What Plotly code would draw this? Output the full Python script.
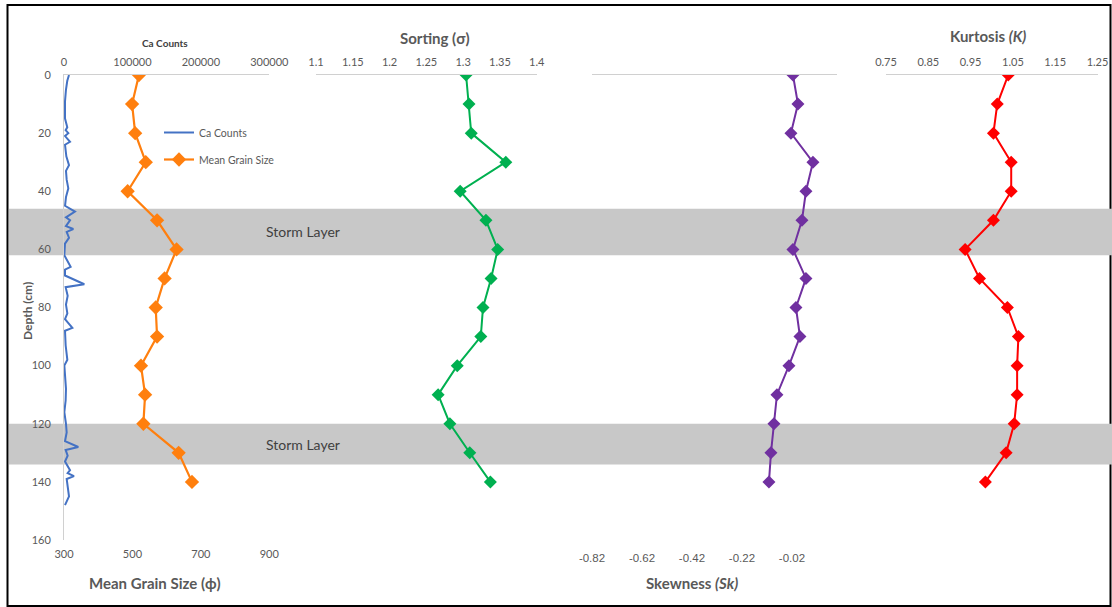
import plotly.graph_objects as go

W, H = 1112, 607


def fx(p):
    return p / W


def fy(p):
    return 1 - p / H


# Grain-size statistics, sampled every 10 cm
depth = [0, 10, 20, 30, 40, 50, 60, 70, 80, 90, 100, 110, 120, 130, 140]
mean_grain = [519, 499, 508, 539, 486, 572, 629, 594, 568, 572, 525, 537, 532, 635, 674]
sorting = [1.304, 1.308, 1.311, 1.358, 1.296, 1.331, 1.347, 1.338, 1.327, 1.324,
           1.292, 1.266, 1.282, 1.309, 1.337]
skewness = [-0.016, 0.004, -0.024, 0.064, 0.036, 0.020, -0.016, 0.036, -0.004, 0.012,
            -0.032, -0.080, -0.092, -0.104, -0.112]
kurtosis = [1.039, 1.013, 1.004, 1.046, 1.046, 1.004, 0.937, 0.971, 1.037, 1.063,
            1.060, 1.060, 1.053, 1.034, 0.985]

# XRF calcium counts down core
ca_depth = [0, 2, 5, 9, 15, 18, 19, 20, 21, 23, 24, 28, 31, 33, 36, 39, 42, 45, 47, 49,
            50, 52, 53, 54, 56, 58, 62, 66, 67, 69, 72, 73, 76, 79, 82, 84, 87, 88, 93, 98,
            100, 105, 108, 112, 116, 120, 123, 126, 128, 129, 131, 133, 136, 137, 138, 139,
            141, 144, 145, 148]
ca_counts = [7300, 4800, 2900, 1500, 1500, 4800, 2400, 6300, 1500, 8800, 1500, 3400, 7300,
             2900, 3900, 6300, 2900, 1500, 16000, 2900, 8800, 2900, 13600, 3900, 7300, 1460,
             500, 9700, 1460, 1460, 29700, 2400, 5350, 2900, 4900, 1460, 12200, 1460, 2400,
             4900, 500, 1460, 2900, 2400, 500, 2900, 3900, 1460, 20900, 2400, 5350, 1460,
             8800, 5350, 14600, 3900, 4900, 6300, 7300, 1460]

# Storm layer depth intervals (cm)
storm_layers = [(46, 62), (120, 134)]

depth_ticks = [0, 20, 40, 60, 80, 100, 120, 140, 160]
ca_ticks = [0, 100000, 200000, 300000]
grain_ticks = [300, 500, 700, 900]
sorting_ticks = [1.1, 1.15, 1.2, 1.25, 1.3, 1.35, 1.4]
skew_ticks = [-0.82, -0.62, -0.42, -0.22, -0.02]
kurt_ticks = [0.75, 0.85, 0.95, 1.05, 1.15, 1.25]

FONT = "Lato"
GREY = "#595959"
AXIS_LINE = "#d0d0d0"

fig = go.Figure()

fig.add_trace(go.Scatter(
    x=ca_counts, y=ca_depth, xaxis="x", yaxis="y", mode="lines",
    name="Ca Counts", legendgroup="ca",
    line=dict(color="#4472C4", width=2),
))
fig.add_trace(go.Scatter(
    x=mean_grain, y=depth, xaxis="x2", yaxis="y", mode="lines+markers",
    name="Mean Grain Size", legendgroup="mgs",
    line=dict(color="#FF7F0E", width=2.2),
    marker=dict(symbol="diamond", size=11, color="#FF7F0E"),
))
fig.add_trace(go.Scatter(
    x=sorting, y=depth, xaxis="x3", yaxis="y", mode="lines+markers", showlegend=False,
    line=dict(color="#00B050", width=2),
    marker=dict(symbol="diamond", size=10, color="#00B050"),
))
fig.add_trace(go.Scatter(
    x=skewness, y=depth, xaxis="x4", yaxis="y", mode="lines+markers", showlegend=False,
    line=dict(color="#7030A0", width=2),
    marker=dict(symbol="diamond", size=10, color="#7030A0"),
))
# same skewness values on the lower (labelled) skewness axis, invisible
fig.add_trace(go.Scatter(
    x=skewness, y=depth, xaxis="x5", yaxis="y", mode="markers", showlegend=False,
    marker=dict(opacity=0), hoverinfo="skip",
))
fig.add_trace(go.Scatter(
    x=kurtosis, y=depth, xaxis="x6", yaxis="y", mode="lines+markers", showlegend=False,
    line=dict(color="#FF0000", width=2),
    marker=dict(symbol="diamond", size=10, color="#FF0000"),
))

tick_font = dict(family=FONT, size=11, color=GREY)


def top_axis(dom, rng, ticks, labels=None, show_labels=True):
    return dict(
        domain=[fx(dom[0]), fx(dom[1])], range=rng, side="top", anchor="y",
        showline=True, linecolor=AXIS_LINE, linewidth=1, showgrid=False, zeroline=False,
        ticks="", tickvals=ticks, ticktext=labels, showticklabels=show_labels,
        tickfont=tick_font, ticklabelstandoff=4, automargin=False,
    )


fig.update_layout(
    width=W, height=H, template="none",
    margin=dict(l=0, r=0, t=0, b=0),
    paper_bgcolor="white", plot_bgcolor="rgba(0,0,0,0)",
    font=dict(family=FONT, color=GREY),
    xaxis=top_axis((64, 269.3), [0, 300000], ca_ticks,
                   ["0", "100000", "200000", "300000"]),
    xaxis2=dict(
        overlaying="x", side="bottom", anchor="y", range=[300, 900],
        showline=False, showgrid=False, zeroline=False, ticks="",
        tickvals=grain_ticks, tickfont=tick_font, ticklabelstandoff=6, automargin=False,
    ),
    xaxis3=top_axis((316, 536.7), [1.1, 1.4], sorting_ticks,
                    ["1.1", "1.15", "1.2", "1.25", "1.3", "1.35", "1.4"]),
    xaxis4=top_axis((592, 836.7), [-0.82, 0.159], skew_ticks, show_labels=False),
    xaxis5=dict(
        overlaying="x4", side="bottom", anchor="y", range=[-0.82, 0.159],
        showline=False, showgrid=False, zeroline=False, ticks="",
        tickvals=skew_ticks, ticktext=["-0.82", "-0.62", "-0.42", "-0.22", "-0.02"],
        tickfont=dict(family="Liberation Sans", size=11.5, color=GREY),
        ticklabelstandoff=9, automargin=False,
    ),
    xaxis6=top_axis((886, 1097.5), [0.75, 1.25], kurt_ticks,
                    ["0.75", "0.85", "0.95", "1.05", "1.15", "1.25"]),
    yaxis=dict(
        domain=[fy(540), fy(75)], range=[160, 0], anchor="x",
        showline=True, linecolor=AXIS_LINE, linewidth=1, showgrid=False, zeroline=False,
        ticks="", tickvals=depth_ticks, tickfont=tick_font, ticklabelstandoff=10,
        automargin=False,
    ),
    legend=dict(
        x=fx(159), y=fy(118), xanchor="left", yanchor="top",
        bgcolor="rgba(0,0,0,0)", font=dict(family=FONT, size=10.5, color=GREY),
        tracegroupgap=8, itemwidth=30,
    ),
)

# Storm layer bands and the outer frame
shapes = [dict(type="rect", xref="paper", yref="paper", x0=fx(7.5), x1=fx(1110.5),
               y0=fy(606), y1=fy(5), line=dict(color="black", width=2),
               fillcolor="rgba(0,0,0,0)", layer="below")]
for top, bottom in storm_layers:
    shapes.append(dict(type="rect", xref="paper", yref="y", x0=fx(9), x1=1,
                       y0=top, y1=bottom, fillcolor="#c8c8c8",
                       line=dict(width=0), layer="below"))
fig.update_layout(shapes=shapes)

annotations = []
for top, bottom in storm_layers:
    annotations.append(dict(text="Storm Layer", xref="paper", yref="y", x=fx(303),
                            y=(top + bottom) / 2, showarrow=False,
                            xanchor="center", yanchor="middle",
                            font=dict(family=FONT, size=14, color="#404040")))

title_font = dict(family=FONT, size=15, color=GREY)
annotations += [
    dict(text="<b>Ca Counts</b>", x=fx(165), y=fy(43), font=dict(family=FONT, size=10, color="#404040")),
    dict(text="<b>Sorting (σ)</b>", x=fx(435), y=fy(38), font=title_font),
    dict(text="<b>Kurtosis <i>(K)</i></b>", x=fx(988), y=fy(36), font=title_font),
    dict(text="<b>Mean Grain Size (ϕ)</b>", x=fx(155), y=fy(583), font=title_font),
    dict(text="<b>Skewness <i>(Sk)</i></b>", x=fx(692), y=fy(583), font=title_font),
    dict(text="<b>Depth (cm)</b>", x=fx(27), y=fy(311), textangle=-90,
         font=dict(family=FONT, size=12, color=GREY)),
]
for a in annotations[len(storm_layers):]:
    a.update(xref="paper", yref="paper", showarrow=False,
             xanchor="center", yanchor="middle")
fig.update_layout(annotations=annotations)

fig.write_html("out.html")
